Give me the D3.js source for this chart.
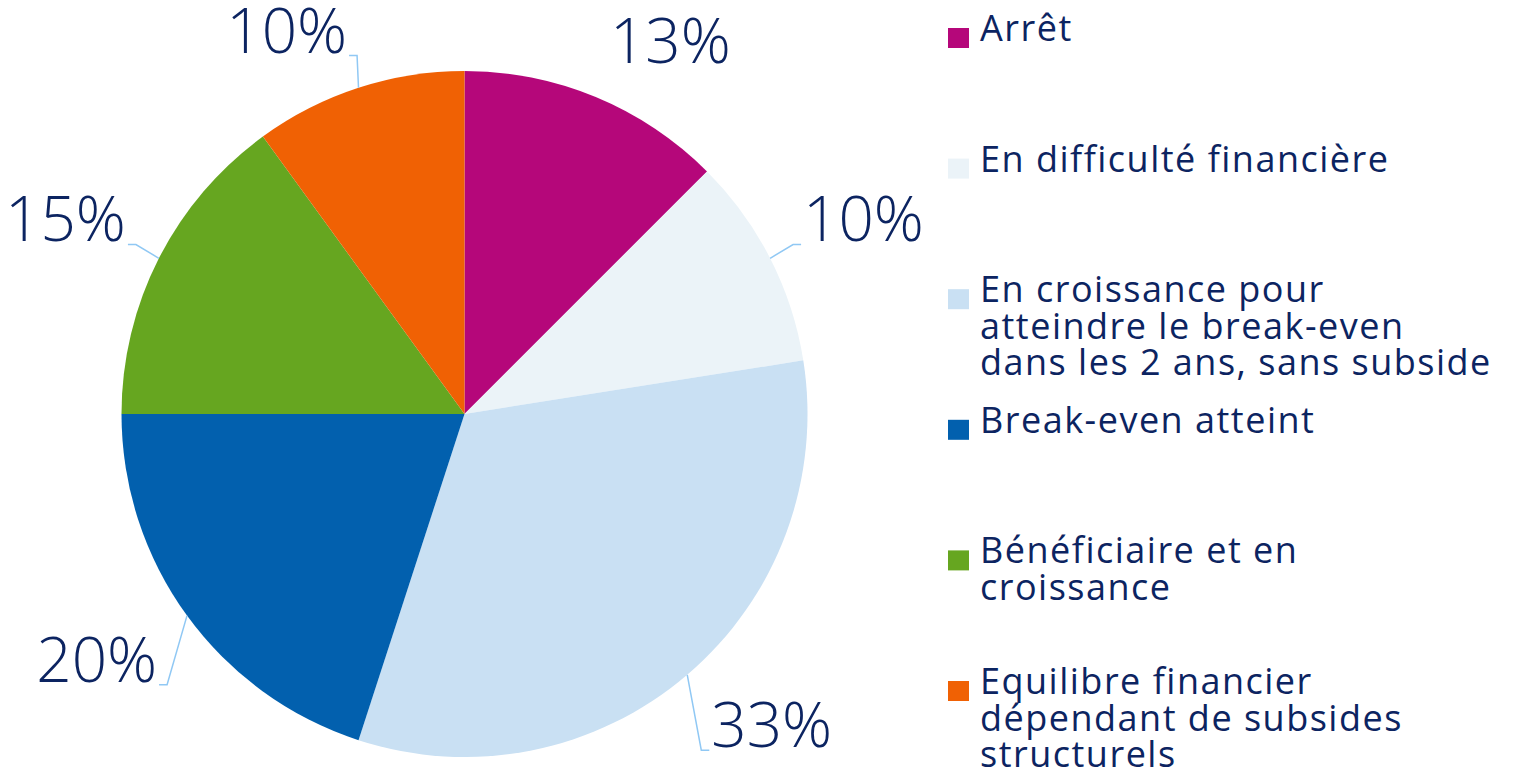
<!DOCTYPE html>
<html>
<head>
<meta charset="utf-8">
<script src="https://cdn.jsdelivr.net/npm/d3@7"></script>
<style>
  body { margin: 0; background: #fff; }
  svg { display: block; }
  text { font-family: "Open Sans", "Noto Sans", sans-serif; fill: #0c2461; }
</style>
</head>
<body>
<div id="pie"></div>
<script>
// categories (legend labels, line breaks as in the original)
var categories = [
    "Arrêt",
    "En difficulté financière",
    "En croissance pour\natteindre le break-even\ndans les 2 ans, sans subside",
    "Break-even atteint",
    "Bénéficiaire et en\ncroissance",
    "Equilibre financier\ndépendant de subsides\nstructurels"
];
// share of each category, in percent
var values = [12.5, 10, 32.5, 20, 15, 10];
var colors = ["#b5077a", "#ebf3f8", "#c9e0f3", "#0260ae", "#66a620", "#f06104"];
// excel hides the leader line for labels left at their default spot
var showLeader = [false, true, true, true, true, true];

document.addEventListener("DOMContentLoaded", function() {

    var width = 1517,
        height = 769,
        radius = 343,
        labelGap = 37,
        cx = 464.5,
        cy = 414;

    var svg = d3.select("#pie").append("svg")
        .attr("width", width)
        .attr("height", height);

    var g = svg.append("g")
        .attr("transform", "translate(" + cx + "," + cy + ")");

    var pie = d3.pie().sort(null).value(function(d) { return d; });
    var arc = d3.arc().innerRadius(0).outerRadius(radius);
    var arcs = pie(values);

    g.selectAll("path.slice")
        .data(arcs)
        .enter().append("path")
        .attr("class", "slice")
        .attr("d", arc)
        .style("fill", function(d, i) { return colors[i]; });

    // percentage labels, placed outside end like excel does
    var fontSize = 62,
        capH = fontSize * 0.714;

    arcs.forEach(function(d, i) {
        var a = (d.startAngle + d.endAngle) / 2,
            s = Math.sin(a),
            c = Math.cos(a),
            px = s * (radius + labelGap),
            py = -c * (radius + labelGap);

        var t = g.append("text")
            .style("font-size", fontSize + "px")
            .style("font-weight", 300)
            .text(Math.round(values[i]) + "%");

        var w = t.node().getComputedTextLength();
        var x = s > 0 ? px : px - w;
        var y = c > 0 ? py : py + capH;
        t.attr("x", x).attr("y", y);

        if (showLeader[i]) {
            var cornerX = s > 0 ? x - 2 : x + w + 2,
                bottomY = y + 3,
                dir = s > 0 ? 1 : -1;
            var pts = [
                [s * radius, -c * radius],
                [cornerX - dir * 8, bottomY],
                [cornerX, bottomY]
            ];
            g.append("path")
                .attr("d", d3.line()(pts))
                .style("fill", "none")
                .style("stroke", "#90c8f4")
                .style("stroke-width", 1.5);
        }
    });

    // legend
    var ly = d3.scalePoint().domain(d3.range(categories.length)).range([28, 681]);

    var legend = svg.selectAll("g.legend")
        .data(categories)
        .enter().append("g")
        .attr("class", "legend")
        .attr("transform", function(d, i) { return "translate(948," + ly(i) + ")"; });

    legend.append("rect")
        .attr("width", 21)
        .attr("height", 20)
        .style("fill", function(d, i) { return colors[i]; });

    legend.append("text")
        .attr("x", 32)
        .attr("y", 13)
        .style("font-size", "36px")
        .style("letter-spacing", "1.5px")
        .selectAll("tspan")
        .data(function(d) { return d.split("\n"); })
        .enter().append("tspan")
        .attr("x", 32)
        .attr("dy", function(d, j) { return j === 0 ? 0 : 36.5; })
        .text(function(d) { return d; });
});
</script>
</body>
</html>
